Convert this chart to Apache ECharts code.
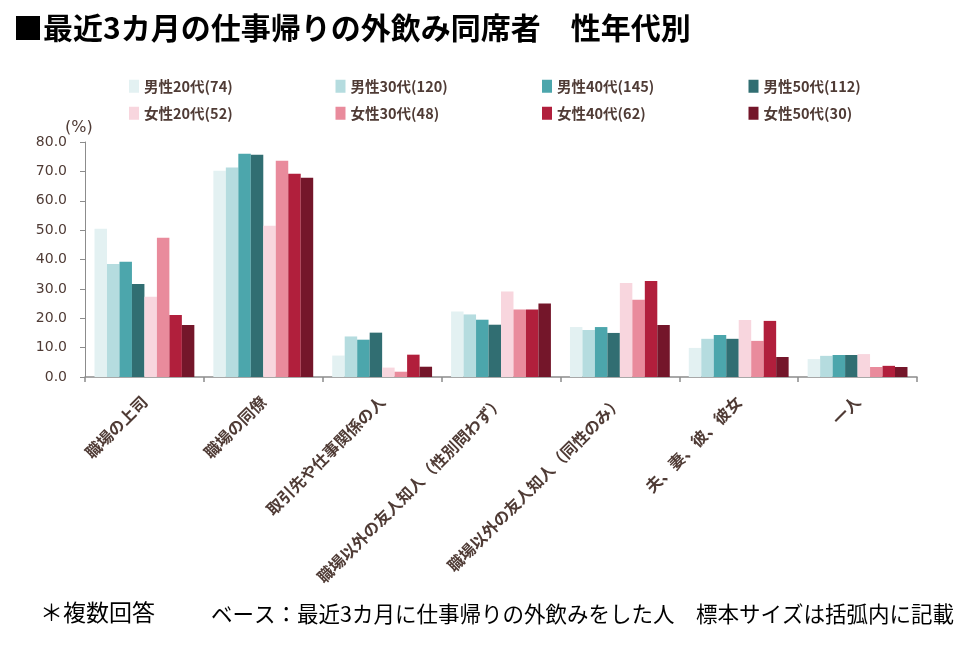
<!DOCTYPE html>
<html>
<head>
<meta charset="utf-8">
<script src="https://cdn.jsdelivr.net/npm/echarts@6/dist/echarts.min.js"></script>
<style>
  html, body { margin: 0; padding: 0; background: #fff; }
  #main { width: 960px; height: 651px; }
</style>
</head>
<body>
<div id="main"></div>
<script>
// カテゴリ
var categories = ['職場の上司', '職場の同僚', '取引先や仕事関係の人', '職場以外の友人知人（性別問わず）', '職場以外の友人知人（同性のみ）', '夫、妻、彼、彼女', '一人'];

// 系列名（標本サイズ）
var seriesNames = ['男性20代(74)', '男性30代(120)', '男性40代(145)', '男性50代(112)',
                   '女性20代(52)', '女性30代(48)', '女性40代(62)', '女性50代(30)'];

// 値 (%)
var male20 = [50.5, 70.2, 7.3, 22.3, 17.0, 9.9, 6.1];
var male30 = [38.5, 71.3, 13.8, 21.3, 16.0, 13.0, 7.2];
var male40 = [39.2, 76.0, 12.7, 19.5, 17.0, 14.3, 7.5];
var male50 = [31.7, 75.7, 15.1, 17.8, 15.0, 13.0, 7.5];
var female20 = [27.3, 51.5, 3.2, 29.1, 32.0, 19.4, 7.8];
var female30 = [47.4, 73.6, 1.8, 23.0, 26.3, 12.3, 3.4];
var female40 = [21.1, 69.2, 7.6, 23.0, 32.7, 19.1, 3.8];
var female50 = [17.7, 67.8, 3.5, 25.0, 17.7, 6.8, 3.4];

var values = [male20, male30, male40, male50, female20, female30, female40, female50];
var colors = ['#e3f1f2', '#b5dcdf', '#4ca6ac', '#316e72', '#f8d6de', '#e98b9c', '#b11f3c', '#74162a'];

var textColor = '#4f3b35';
var axisColor = '#8c8c8c';
var cjk = '"Noto Sans CJK JP", sans-serif';

var chart = echarts.init(document.getElementById('main'));

// 凡例は2行4列、1項目ずつ配置
var legends = seriesNames.map(function (name, i) {
  return {
    data: [name],
    left: 129 + (i % 4) * 206.5,
    top: i < 4 ? 79 : 106,
    padding: 0,
    icon: 'rect',
    itemWidth: 10,
    itemHeight: 13,
    itemGap: 0,
    selectedMode: false,
    textStyle: { color: textColor, fontSize: 14.5, fontWeight: 'bold', fontFamily: cjk }
  };
});

var series = seriesNames.map(function (name, i) {
  return {
    name: name,
    type: 'bar',
    data: values[i],
    barGap: 0,
    barCategoryGap: '16%',
    itemStyle: { color: colors[i] }
  };
});

var option = {
  animation: false,
  backgroundColor: '#fff',
  title: [
    { text: '■最近3カ月の仕事帰りの外飲み同席者　性年代別', left: 8, top: 8,
      textStyle: { color: '#000', fontSize: 30, fontWeight: 'bold', fontFamily: cjk } },
    { text: '＊複数回答', left: 35, top: 596,
      textStyle: { color: '#000', fontSize: 23, fontWeight: 'normal', fontFamily: cjk } },
    { text: 'ベース：最近3カ月に仕事帰りの外飲みをした人　標本サイズは括弧内に記載', right: 1, top: 598,
      textStyle: { color: '#000', fontSize: 21.5, fontWeight: 'normal', fontFamily: cjk } },
    { text: '(%)', left: 60, top: 115,
      textStyle: { color: textColor, fontSize: 16, fontWeight: 'normal', fontFamily: '"DejaVu Sans", sans-serif' } }
  ],
  legend: legends,
  grid: { left: 85, right: 43, top: 142, bottom: 274, containLabel: false },
  xAxis: {
    type: 'category',
    data: categories,
    axisLine: { lineStyle: { color: axisColor, width: 1.5 } },
    axisTick: { show: true, alignWithLabel: false, length: 5, lineStyle: { color: axisColor, width: 1.5 } },
    axisLabel: { interval: 0, rotate: 45, margin: 22, color: textColor, fontSize: 16, fontWeight: 'bold', fontFamily: cjk }
  },
  yAxis: {
    type: 'value',
    min: 0,
    max: 80,
    interval: 10,
    axisLine: { show: true, lineStyle: { color: axisColor, width: 1 } },
    axisTick: { show: true, length: 5, lineStyle: { color: axisColor } },
    splitLine: { show: false },
    axisLabel: {
      margin: 18,
      color: textColor,
      fontSize: 14,
      fontFamily: '"DejaVu Sans", sans-serif',
      formatter: function (v) { return v.toFixed(1); }
    }
  },
  series: series
};

chart.setOption(option);
</script>
</body>
</html>
